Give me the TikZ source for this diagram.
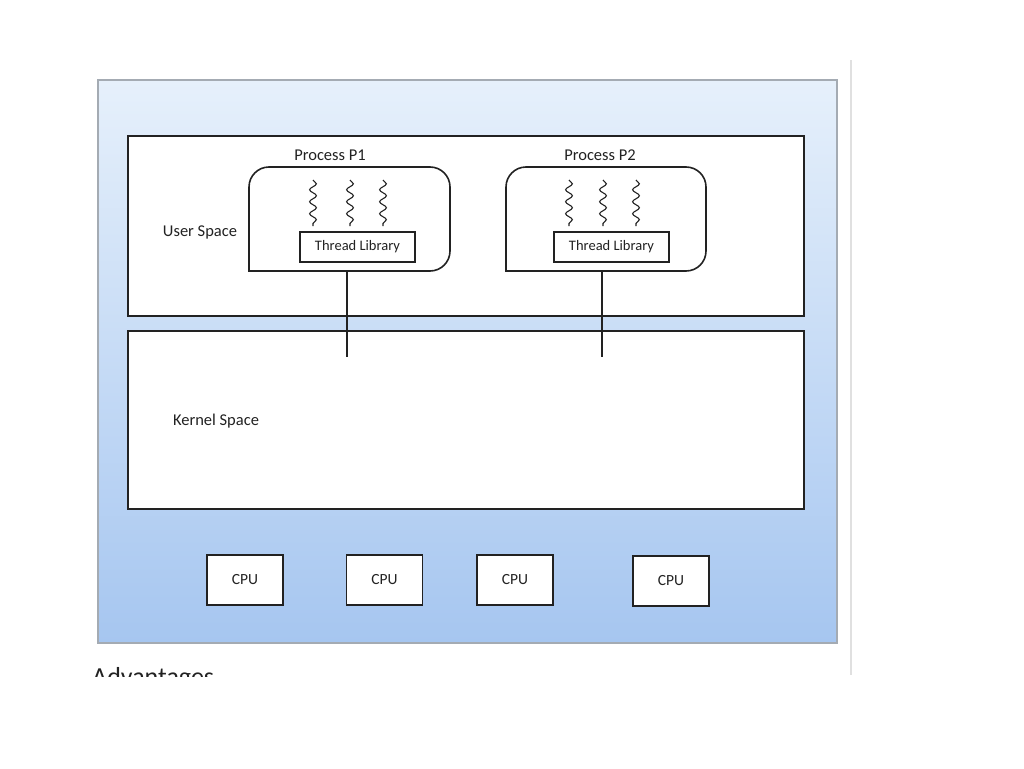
\documentclass[tikz,border=0pt]{standalone}
\usepackage{fontspec}
\setmainfont{Carlito}
\usetikzlibrary{decorations.pathmorphing}
\definecolor{bordergray}{HTML}{A4ABB3}
\definecolor{topblue}{HTML}{E6F0FB}
\definecolor{botblue}{HTML}{A6C6F0}
\definecolor{ink}{HTML}{222222}
\tikzset{
  box/.style={draw=ink, line width=1.6pt, fill=white},
  lib/.style={draw=ink, line width=1.2pt, fill=white, font=\fontsize{14.5}{17}\selectfont, text=ink},
  cpu/.style={draw=ink, line width=1.6pt, fill=white, minimum width=76pt, minimum height=50pt, font=\fontsize{15.5}{18}\selectfont, text=ink},
  lbl/.style={font=\fontsize{16.5}{19}\selectfont, text=ink},
  squig/.style={draw=ink, line width=1.1pt, decorate, decoration={snake, segment length=12pt, amplitude=3.4pt}},
  conn/.style={draw=ink, line width=1.4pt}
}
\begin{document}
\begin{tikzpicture}[x=1pt,y=-1pt]
\useasboundingbox (0,0) rectangle (1024,768);
\fill[white] (0,0) rectangle (1024,768);
% outer panel
\shade[top color=topblue, bottom color=botblue] (98,80) rectangle (837,643);
\draw[bordergray, line width=2pt] (98,80) rectangle (837,643);
\draw[black!12, line width=2pt] (851,60) -- (851,675);
% spaces
\node[box, minimum width=676pt, minimum height=180pt, anchor=north west] (user) at (127,135) {};
\node[box, minimum width=676pt, minimum height=178pt, anchor=north west] (kernel) at (127,330) {};
\node[lbl] (ulbl) at (200,232) {User Space};
\node[lbl] (klbl) at (216,421) {Kernel Space};
% processes
\draw[box, rounded corners=20pt] (249,271) -- (249,167) -- (450,167) -- (450,271) [sharp corners] -- cycle;
\draw[box, rounded corners=20pt] (506,271) -- (506,167) -- (706,167) -- (706,271) [sharp corners] -- cycle;
\coordinate (p1b) at (347,271);
\coordinate (p2b) at (602,271);
\node[lbl] (p1l) at (330,155) {Process P1};
\node[lbl] (p2l) at (600,155) {Process P2};
\node[lib, minimum width=115pt, minimum height=30pt] (t1) at (357.5,247) {Thread Library};
\node[lib, minimum width=115pt, minimum height=30pt] (t2) at (611.5,247) {Thread Library};
% threads
\foreach \x in {313,350,383,569,603,636}{
  \draw[squig] (\x,180) -- (\x,226);
}
% connectors
\coordinate (k1) at (347,357);
\coordinate (k2) at (602,357);
\draw[conn] (p1b) -- (k1);
\draw[conn] (p2b) -- (k2);
% CPUs
\node[cpu] (c1) at (245,580) {CPU};
\node[cpu] (c2) at (384.5,580) {CPU};
\node[cpu] (c3) at (515,580) {CPU};
\node[cpu] (c4) at (671,581) {CPU};
% clipped caption
\begin{scope}
\clip (80,660) rectangle (300,676);
\node[anchor=base west, inner sep=0pt, font=\fontsize{26}{30}\selectfont, text=ink] (adv) at (92,685) {Advantages};
\end{scope}
\end{tikzpicture}
\end{document}
